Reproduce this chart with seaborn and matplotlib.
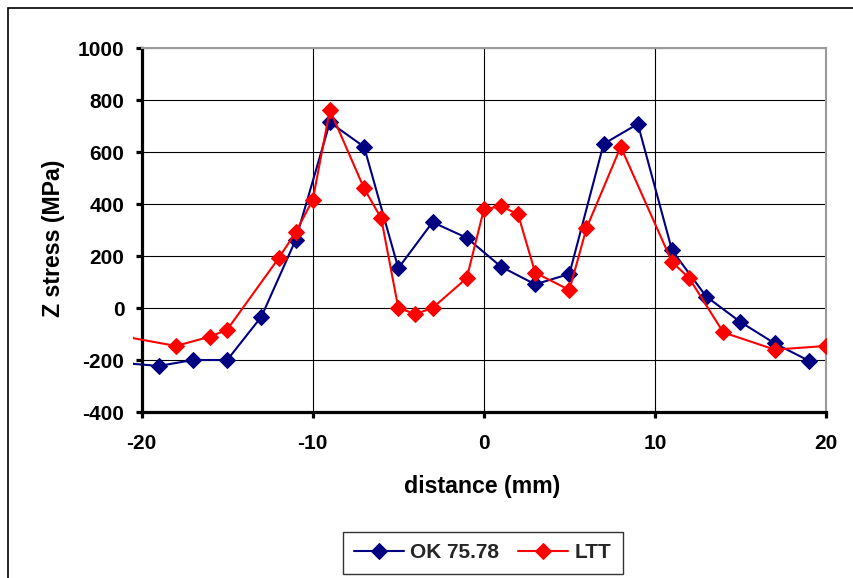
import matplotlib
matplotlib.use("Agg")
import matplotlib.pyplot as plt
import seaborn as sns
import pandas as pd
from matplotlib.patches import Rectangle

# ---- data ----
ok_x = [-21, -19, -17, -15, -13, -11, -9, -7, -5, -3, -1, 1, 3, 5, 7, 9, 11, 13, 15, 17, 19]
ok_y = [-212, -223, -200, -200, -33, 262, 714, 620, 153, 330, 270, 159, 91, 131, 631, 708, 222, 44, -54, -136, -203]

ltt_x = [-21, -18, -16, -15, -12, -11, -10, -9, -7, -6, -5, -4, -3, -1, 0, 1, 2, 3, 5, 6, 8, 11, 12, 14, 17, 20]
ltt_y = [-110, -146, -110, -83, 191, 291, 416, 762, 460, 345, 0, -23, 0, 115, 379, 392, 360, 136, 69, 307, 620, 177, 115, -94, -160, -146]

series_names = ["OK 75.78", "LTT"]
series_colors = ["#000080", "#FF0000"]
x_ticks = [-20, -10, 0, 10, 20]
y_ticks = [-400, -200, 0, 200, 400, 600, 800, 1000]

sns.set_theme(style="white")
plt.rcParams["font.family"] = ["Liberation Sans", "DejaVu Sans"]
plt.rcParams["font.weight"] = "bold"

W, H = 854, 578
fig = plt.figure(figsize=(W / 100, H / 100), dpi=100)
fig.patch.set_facecolor("white")

L, R, T, B = 141.7, 826.0, 48.0, 412.0
ax = fig.add_axes([L / W, 1 - B / H, (R - L) / W, (B - T) / H])
ax.set_facecolor("white")

df_ok = pd.DataFrame({"x": ok_x, "y": ok_y})
df_ltt = pd.DataFrame({"x": ltt_x, "y": ltt_y})

for df, name, col in [(df_ok, series_names[0], series_colors[0]),
                      (df_ltt, series_names[1], series_colors[1])]:
    sns.lineplot(data=df, x="x", y="y", ax=ax, color=col, lw=1.5, marker="D",
                 markersize=8, markeredgecolor=col, markerfacecolor=col,
                 sort=False, label=name, legend=False, zorder=3)

ax.set_xlim(-20, 20)
ax.set_ylim(-400, 1000)
ax.set_xticks(x_ticks)
ax.set_yticks(y_ticks)
ax.set_xticklabels([str(v) for v in x_ticks])
ax.set_yticklabels([str(v) for v in y_ticks])

# custom clip so line segments slightly extend left of the axis, as in reference
clip = Rectangle((-0.012, 0), 1.012, 1, transform=ax.transAxes, facecolor="none", edgecolor="none")
ax.add_patch(clip)
for ln in ax.lines:
    ln.set_clip_path(clip)

ax.grid(True, color="black", lw=0.8)
ax.set_axisbelow(True)

for s in ["left", "bottom"]:
    ax.spines[s].set_color("black")
    ax.spines[s].set_linewidth(2.3)
for s in ["top", "right"]:
    ax.spines[s].set_color("#9a9a9a")
    ax.spines[s].set_linewidth(1.5)

ax.tick_params(axis="both", direction="out", length=4.5, width=2.3, color="black",
               labelsize=15, labelcolor="black", left=True, bottom=True)
ax.tick_params(axis="y", pad=8)
ax.tick_params(axis="x", pad=11)
for lab in ax.get_xticklabels() + ax.get_yticklabels():
    lab.set_fontweight("bold")

ax.set_xlabel("distance (mm)", fontsize=16.7, fontweight="bold", color="black")
ax.set_ylabel("Z stress (MPa)", fontsize=16.7, fontweight="bold", color="black")
ax.xaxis.set_label_coords((482.5 - L) / (R - L), (B - 486) / (B - T))
ax.xaxis.label.set_va("center")
ax.yaxis.set_label_coords((54 - L) / (R - L), (B - 238) / (B - T))
ax.yaxis.label.set_va("center")

handles, labels = ax.get_legend_handles_labels()
leg = fig.legend(handles, labels, loc="center",
                 bbox_to_anchor=(482.7 / W, 1 - 553 / H), ncol=2, frameon=True,
                 fancybox=False, shadow=False, handlelength=2.4,
                 handletextpad=0.3, columnspacing=0.9, borderpad=0.55,
                 prop={"weight": "bold", "size": 15})
leg.get_frame().set_edgecolor("black")
leg.get_frame().set_linewidth(1.0)
for h in leg.legend_handles:
    h.set_markersize(8)

# outer chart frame
fig.patches.append(Rectangle((8 / W, -0.1), 2, 1 - 8 / H + 0.1, transform=fig.transFigure,
                             fill=False, edgecolor="black", lw=1.2))

fig.savefig("out.png", dpi=100)
